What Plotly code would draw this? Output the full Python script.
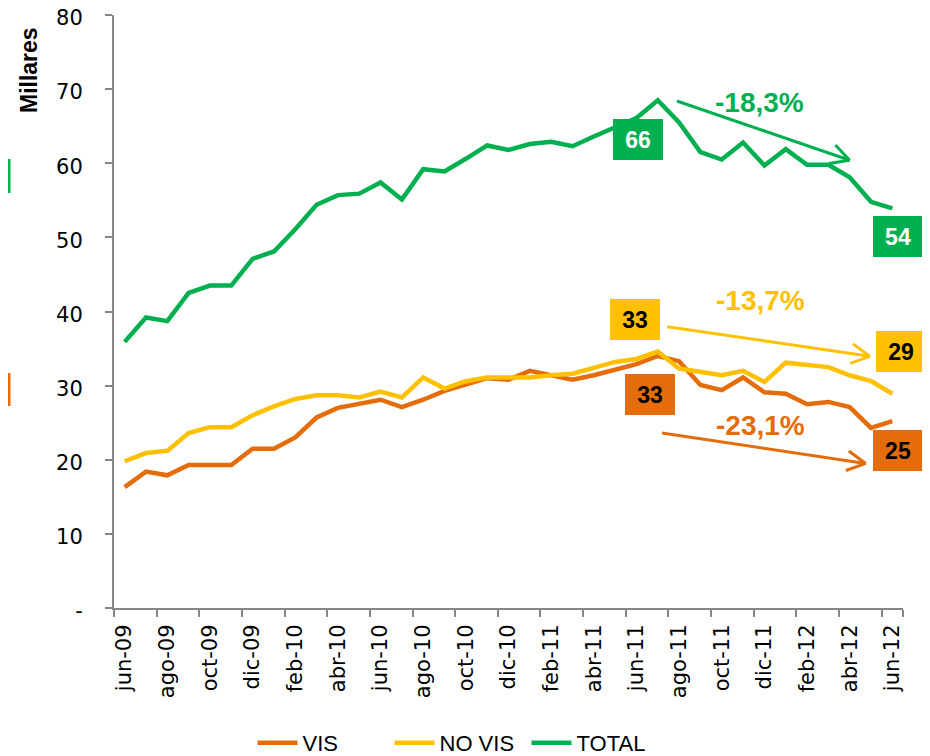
import math
import plotly.graph_objects as go

months = ['jun-09','jul-09','ago-09','sep-09','oct-09','nov-09','dic-09','ene-10','feb-10','mar-10',
          'abr-10','may-10','jun-10','jul-10','ago-10','sep-10','oct-10','nov-10','dic-10','ene-11',
          'feb-11','mar-11','abr-11','may-11','jun-11','jul-11','ago-11','sep-11','oct-11','nov-11',
          'dic-11','ene-12','feb-12','mar-12','abr-12','may-12','jun-12']

vis = [16.3, 18.4, 17.9, 19.3, 19.3, 19.3, 21.5, 21.5, 23.0, 25.7,
       27.0, 27.5, 28.1, 27.1, 28.1, 29.3, 30.2, 31.0, 30.8, 32.0,
       31.4, 30.8, 31.4, 32.2, 32.9, 34.0, 33.3, 30.1, 29.4, 31.1,
       29.1, 28.9, 27.5, 27.8, 27.1, 24.3, 25.2]

no_vis = [19.8, 20.9, 21.2, 23.6, 24.4, 24.4, 26.0, 27.2, 28.2, 28.7,
          28.7, 28.4, 29.2, 28.4, 31.1, 29.6, 30.6, 31.1, 31.1, 31.1,
          31.4, 31.6, 32.4, 33.2, 33.6, 34.6, 32.3, 31.8, 31.4, 32.0,
          30.5, 33.1, 32.8, 32.5, 31.4, 30.6, 28.9]

total = [35.9, 39.2, 38.7, 42.5, 43.5, 43.5, 47.1, 48.1, 51.1, 54.4,
         55.7, 55.9, 57.4, 55.1, 59.2, 58.9, 60.6, 62.4, 61.8, 62.6,
         62.9, 62.3, 63.6, 64.8, 66.1, 68.5, 65.5, 61.5, 60.5, 62.8,
         59.7, 61.9, 59.8, 59.8, 58.1, 54.8, 53.9]

series_names = ['VIS', 'NO VIS', 'TOTAL']
colors = ['#E46C0A', '#FFC000', '#00B050']
y_ticks = [0, 10, 20, 30, 40, 50, 60, 70, 80]
y_ticktext = ['-', '10', '20', '30', '40', '50', '60', '70', '80']

# Layout geometry (the page body adds an 8px margin, compensate for it)
OFF = 8
W, H = 930 - OFF, 756 - OFF
ML, MT = 114 - OFF, 15 - OFF
PW, PH = 789, 593
MR = W - ML - PW
MB = H - MT - PH
ppx = PW / len(months)
ppy = PH / 80.0


def py_screen(y_px):
    """paper y for a screen pixel row"""
    return (MT + PH - (y_px - OFF)) / PH


def px_screen(x_px):
    return (x_px - OFF - ML) / PW


fig = go.Figure()
for name, vals, col in zip(series_names, [vis, no_vis, total], colors):
    fig.add_trace(go.Scatter(x=months, y=vals, mode='lines', name=name,
                             line=dict(color=col, width=4.5)))

# value boxes: (x index, y, text, bg, font color)
boxes = [
    (24.05, 63.25, '66', colors[2], 'white'),
    (36.25, 50.1, '54', colors[2], 'white'),
    (23.95, 38.95, '33', colors[1], 'black'),
    (36.4, 34.55, '29', colors[1], 'black'),
    (24.65, 28.85, '33', colors[0], 'black'),
    (36.25, 21.3, '25', colors[0], 'black'),
]
annotations = []
for bx, by, txt, bg, fc in boxes:
    annotations.append(dict(x=bx, y=by, xref='x', yref='y', text='<b>%s</b>' % txt,
                            showarrow=False, bgcolor=bg, width=50, height=41,
                            borderpad=0, borderwidth=0,
                            font=dict(family='Liberation Sans', size=23, color=fc)))

pct_labels = [
    (29.75, 68.2, '-18,3%', colors[2]),
    (29.8, 41.5, '-13,7%', colors[1]),
    (29.8, 24.6, '-23,1%', colors[0]),
]
for px_, py_, txt, col in pct_labels:
    annotations.append(dict(x=px_, y=py_, xref='x', yref='y', text='<b>%s</b>' % txt,
                            showarrow=False,
                            font=dict(family='Liberation Sans', size=28, color=col)))

annotations.append(dict(x=px_screen(29), y=py_screen(70), xref='paper', yref='paper',
                        xanchor='center', yanchor='middle',
                        text='<b>Millares</b>', showarrow=False, textangle=-90,
                        font=dict(family='Liberation Sans', size=23, color='black')))

shapes = []
arrows = [
    ((25.9, 68.4), (34.0, 60.4), colors[2]),
    ((25.45, 37.95), (34.95, 33.95), colors[1]),
    ((25.2, 23.6), (34.75, 19.5), colors[0]),
]
for (tx, ty), (hx, hy), col in arrows:
    shapes.append(dict(type='line', xref='x', yref='y', x0=tx, y0=ty, x1=hx, y1=hy,
                       line=dict(color=col, width=3)))
    dx = (tx - hx) * ppx
    dy = (ty - hy) * ppy
    L = math.hypot(dx, dy)
    ux, uy = dx / L, dy / L
    for ang in (28, -28):
        a = math.radians(ang)
        rx = ux * math.cos(a) - uy * math.sin(a)
        ry = ux * math.sin(a) + uy * math.cos(a)
        shapes.append(dict(type='line', xref='x', yref='y', xsizemode='pixel', ysizemode='pixel',
                           xanchor=hx, yanchor=hy, x0=0, y0=0, x1=rx * 21, y1=ry * 21,
                           line=dict(color=col, width=3)))

# small cut-off markers at the left edge
shapes.append(dict(type='rect', xref='paper', yref='paper', x0=-ML / PW, x1=(2.5 - ML) / PW,
                   y0=py_screen(193), y1=py_screen(159),
                   fillcolor=colors[2], line=dict(width=0)))
shapes.append(dict(type='rect', xref='paper', yref='paper', x0=-ML / PW, x1=(2.5 - ML) / PW,
                   y0=py_screen(406), y1=py_screen(373),
                   fillcolor=colors[0], line=dict(width=0)))

fig.update_layout(
    width=W, height=H,
    margin=dict(l=ML, r=MR, t=MT, b=MB, autoexpand=False),
    paper_bgcolor='white', plot_bgcolor='white',
    showlegend=True,
    legend=dict(orientation='h', x=px_screen(458), xanchor='center', y=py_screen(743), yanchor='middle',
                font=dict(family='Liberation Sans', size=22, color='black'),
                entrywidth=82, entrywidthmode='pixels',
                itemwidth=40, traceorder='normal', bgcolor='rgba(0,0,0,0)'),
    xaxis=dict(type='category', categoryorder='array', categoryarray=months,
               range=[-0.5, len(months) - 0.5], automargin=False,
               tickmode='array', tickvals=months[::2], ticktext=months[::2],
               tickson='boundaries', ticks='outside', ticklen=7, tickwidth=2, tickcolor='#868686',
               showline=True, linecolor='#868686', linewidth=2, showgrid=False, zeroline=False,
               tickangle=-90, ticklabelstandoff=6, ticklabeloverflow='allow',
               tickfont=dict(family='DejaVu Sans', size=21, color='black')),
    yaxis=dict(range=[0, 80], tickmode='array', tickvals=y_ticks, ticktext=y_ticktext,
               automargin=False, ticklabeloverflow='allow', ticklabelshift=3,
               ticks='outside', ticklen=7, tickwidth=2, tickcolor='#868686',
               showline=True, linecolor='#868686', linewidth=2, showgrid=False, zeroline=False,
               ticklabelstandoff=18,
               tickfont=dict(family='DejaVu Sans', size=21, color='black')),
    annotations=annotations,
    shapes=shapes,
)

fig.write_html('out.html')
